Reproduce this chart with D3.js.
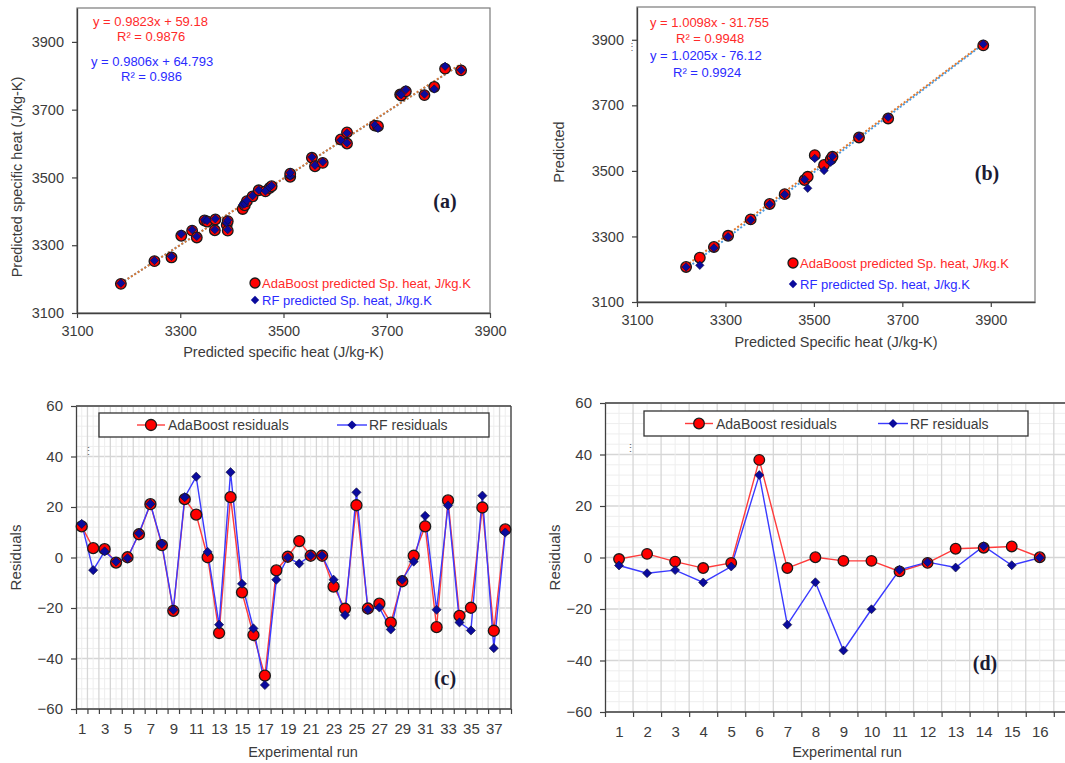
<!DOCTYPE html>
<html><head><meta charset="utf-8">
<script src="https://cdn.jsdelivr.net/npm/d3@7"></script>
<style>body{margin:0;background:#fff;} svg{display:block;}</style>
</head><body>
<svg id="chart" width="1065" height="763"></svg>
<script>
// ---------- DATA ----------
// Panel (a): training set scatter
const actualA = [3185,3250,3283,3302,3323,3332,3347,3352,3368,3367,3390,3392,3392,3421,3425,3429,3440,3452,3465,3473,3477,3513,3513,3555,3561,3576,3611,3623,3623,3677,3683,3726,3728,3737,3773,3792,3813,3844];
const adaA    = [3186,3253,3264,3328,3343,3323,3373,3370,3376,3344,3360,3371,3343,3407,3418,3430,3444,3462,3459,3469,3474,3502,3511,3558,3533,3543,3612,3633,3600,3653,3651,3745,3742,3754,3743,3767,3821,3816];
const rfA     = [3188,3255,3267,3333,3346,3326,3375,3373,3378,3346,3366,3374,3346,3420,3422,3432,3446,3463,3460,3471,3476,3504,3514,3560,3536,3546,3610,3631,3602,3655,3645,3747,3744,3759,3746,3761,3828,3817];
const slopesA = [0.9823, 0.9806];
const interceptsA = [59.18, 64.793];
const eqTextA = ["y = 0.9823x  + 59.18", "R² = 0.9876", "y = 0.9806x  + 64.793", "R² = 0.986"];

// Panel (b): testing set scatter
const actualB = [3211,3242,3274,3306,3357,3400,3434,3479,3486,3502,3523,3538,3542,3602,3668,3883];
const adaB    = [3207,3235,3268,3302,3352,3399,3429,3472,3482,3548,3518,3535,3543,3602,3660,3883];
const rfB     = [3207,3212,3265,3299,3350,3398,3428,3474,3447,3538,3501,3526,3545,3605,3664,3887];
const slopesB = [1.0098, 1.0205];
const interceptsB = [-31.755, -76.12];
const eqTextB = ["y = 1.0098x - 31.755", "R² = 0.9948", "y = 1.0205x - 76.12", "R² = 0.9924"];

const scatterTicks = [3100, 3300, 3500, 3700, 3900];
const scatterLegend = ["AdaBoost predicted Sp. heat, J/kg.K", "RF predicted Sp. heat, J/kg.K"];

// Panel (c): training residuals
const runsC = d3.range(1, 39);
const adaC = [12.3,3.7,3.3,-2,0.1,9.2,21.1,4.9,-21.1,23.1,17,0.1,-29.9,23.9,-13.8,-30.7,-46.8,-5.1,0.3,6.5,0.7,0.7,-11.5,-20.3,20.7,-20.2,-18.3,-25.8,-9.4,0.7,12.3,-27.6,22.6,-23.1,-19.9,19.8,-29,11.1];
const rfC  = [13.3,-5,2.4,-1.6,-0.3,9.6,21.2,5.4,-20.7,23.9,32,2.2,-26.6,33.8,-10.4,-28.1,-50.5,-8.8,0,-2.4,0.8,0.8,-8.8,-22.8,25.8,-20.7,-19.8,-28.5,-8.8,-1.6,16.5,-20.7,20.6,-25.7,-28.9,24.5,-35.9,9.9];
const xLabelsC = [1,3,5,7,9,11,13,15,17,19,21,23,25,27,29,31,33,35,37];

// Panel (d): testing residuals
const runsD = [1,2,3,4,5,6,7,8,9,10,11,12,13,14,15,16];
const adaD = [-0.6,1.4,-1.6,-4.1,-2.1,37.9,-4.1,0.1,-1.3,-1.3,-5.4,-2.1,3.4,3.8,4.3,0.1];
const rfD  = [-3.1,-6.1,-4.9,-9.7,-3.5,32,-26.1,-9.6,-36.1,-20.1,-4.8,-1.8,-3.9,4.4,-3,-0.1];

const residTicks = [-60,-40,-20,0,20,40,60];
const residLegend = ["AdaBoost residuals", "RF residuals"];

// ---------- STYLE ----------
const FONT = '"Liberation Sans", Arial, sans-serif';
const SERIF = '"Liberation Serif", "Times New Roman", serif';
const TXT = '#3b3b3b';
const RED = '#ff0000', BLUE = '#0a0a9c';
const svg = d3.select('#chart');

function diamond(h) { return `M0,${-h}L${h},0L0,${h}L${-h},0Z`; }

function styleAxis(a, fs) {
  a.select('.domain').attr('stroke', '#404040').attr('stroke-width', 1.3);
  a.selectAll('.tick line').attr('stroke', '#404040').attr('stroke-width', 1.2);
  a.selectAll('text').attr('fill', TXT).style('font-size', fs + 'px').style('font-family', FONT);
}

function addText(g, x, y, t, o) {
  const e = g.append('text').attr('x', x).attr('y', y).text(t)
    .style('font-family', o.family || FONT).style('font-size', (o.size || 13) + 'px')
    .attr('fill', o.fill || TXT).attr('text-anchor', o.anchor || 'start');
  if (o.weight) e.style('font-weight', o.weight);
  if (o.rotate) e.attr('transform', `rotate(-90,${x},${y})`);
  return e;
}

// ---------- SCATTER PANEL ----------
function scatterPanel(o) {
  const g = svg.append('g');
  const x = d3.scaleLinear().domain(o.xDom).range([o.l, o.r]);
  const y = d3.scaleLinear().domain(o.yDom).range([o.b, o.t]);
  g.append('rect').attr('x', o.l).attr('y', o.t).attr('width', o.r - o.l).attr('height', o.b - o.t)
    .attr('fill', 'none').attr('stroke', '#7a7a7a').attr('stroke-width', 1.2);
  const ax = g.append('g').attr('transform', `translate(0,${o.b})`)
    .call(d3.axisBottom(x).tickValues(scatterTicks).tickSize(5).tickSizeOuter(0).tickPadding(8).tickFormat(d3.format('d')));
  const ay = g.append('g').attr('transform', `translate(${o.l},0)`)
    .call(d3.axisLeft(y).tickValues(scatterTicks).tickSize(5).tickSizeOuter(0).tickPadding(8).tickFormat(d3.format('d')));
  styleAxis(ax, 14.5); styleAxis(ay, 14.5);

  addText(g, (o.l + o.r) / 2 + o.xtOff, o.xtY, o.xTitle, {size: 14.5, anchor: 'middle'});
  addText(g, o.ytX, o.ytY, o.yTitle, {size: 14.5, anchor: 'middle', rotate: true});

  // trendlines (RF blue first, AdaBoost orange on top)
  const x0 = d3.min(o.actual), x1 = d3.max(o.actual);
  const trendColors = ['#e07a30', '#4a9be0'];
  [1, 0].forEach(k => {
    g.append('line')
      .attr('x1', x(x0)).attr('y1', y(o.slopes[k] * x0 + o.inter[k]))
      .attr('x2', x(x1)).attr('y2', y(o.slopes[k] * x1 + o.inter[k]))
      .attr('stroke', trendColors[k]).attr('stroke-width', 2).attr('stroke-dasharray', '2,2');
  });

  g.selectAll('circle.ada').data(o.actual).enter().append('circle')
    .attr('cx', d => x(d)).attr('cy', (d, i) => y(o.ada[i])).attr('r', 5.3)
    .attr('fill', RED).attr('stroke', '#1a1a1a').attr('stroke-width', 1.3);
  g.selectAll('path.rf').data(o.actual).enter().append('path')
    .attr('d', diamond(4.2)).attr('transform', (d, i) => `translate(${x(d)},${y(o.rf[i])})`)
    .attr('fill', BLUE).attr('stroke', '#101030').attr('stroke-width', 0.6);

  // equations
  addText(g, o.eqX[0], o.eqY[0], o.eq[0], {fill: '#ff2a2a'});
  addText(g, o.eqX[1], o.eqY[1], o.eq[1], {fill: '#ff2a2a'});
  addText(g, o.eqX[2], o.eqY[2], o.eq[2], {fill: '#2b2bff'});
  addText(g, o.eqX[3], o.eqY[3], o.eq[3], {fill: '#2b2bff'});

  // legend
  g.append('circle').attr('cx', o.legX).attr('cy', o.legY[0]).attr('r', 5)
    .attr('fill', RED).attr('stroke', '#1a1a1a').attr('stroke-width', 1.3);
  g.append('path').attr('d', diamond(4.2)).attr('transform', `translate(${o.legX},${o.legY[1]})`)
    .attr('fill', BLUE);
  addText(g, o.legX + 7, o.legY[0] + 4.6, scatterLegend[0], {fill: '#ff2a2a'});
  addText(g, o.legX + 7, o.legY[1] + 4.6, scatterLegend[1], {fill: '#2b2bff'});

  addText(g, o.tagX, o.tagY, o.tag, {family: SERIF, size: 20, weight: 'bold', anchor: 'middle', fill: '#1b1b33'});
}

// ---------- RESIDUAL PANEL ----------
function residPanel(o) {
  const g = svg.append('g');
  const x = d3.scaleLinear().domain([0.5, o.runs.length + 0.5]).range([o.l, o.rData]);
  const y = d3.scaleLinear().domain([-60, 60]).range([o.b, o.t]);
  const grid = g.append('g');
  // horizontal minor / major
  d3.range(-60, 61, 4).forEach(v => {
    const major = v % 20 === 0;
    grid.append('line').attr('x1', o.l).attr('x2', o.rFrame).attr('y1', y(v)).attr('y2', y(v))
      .attr('stroke', major ? '#d6d6d6' : '#eeeeee').attr('stroke-width', major ? 1.3 : 1);
  });
  // vertical: centers minor, boundaries major
  const nCat = Math.ceil(x.invert(o.rFrame));
  for (let k = 1; k <= nCat; k++) {
    [[k, false], [k + 0.5, true]].forEach(([v, major]) => {
      const px = x(v);
      if (px > o.rFrame + 0.1) return;
      grid.append('line').attr('x1', px).attr('x2', px).attr('y1', o.t).attr('y2', o.b)
        .attr('stroke', major ? '#d6d6d6' : '#eeeeee').attr('stroke-width', major ? 1.3 : 1);
    });
  }
  // frame top/right
  g.append('line').attr('x1', o.l).attr('x2', o.rFrame).attr('y1', o.t).attr('y2', o.t).attr('stroke', '#404040').attr('stroke-width', 1.3);
  if (o.rightBorder) g.append('line').attr('x1', o.rFrame).attr('x2', o.rFrame).attr('y1', o.t).attr('y2', o.b).attr('stroke', '#404040').attr('stroke-width', 1.3);

  // axes
  const ay = g.append('g').attr('transform', `translate(${o.l},0)`)
    .call(d3.axisLeft(y).tickValues(residTicks).tickSize(5).tickSizeOuter(0).tickPadding(8));
  styleAxis(ay, 15);
  const boundaries = d3.range(0.5, nCat + 0.6, 1).filter(v => x(v) <= o.rFrame + 0.1);
  const axT = g.append('g').attr('transform', `translate(0,${o.b})`)
    .call(d3.axisBottom(x).tickValues(boundaries).tickSize(5).tickSizeOuter(0).tickFormat(''));
  styleAxis(axT, 15);
  axT.select('.domain').attr('d', `M${o.l},0H${o.rFrame}`);
  const axL = g.append('g').attr('transform', `translate(0,${o.b})`)
    .call(d3.axisBottom(x).tickValues(o.xLabels).tickSize(0).tickPadding(14).tickFormat(d3.format('d')));
  axL.select('.domain').remove();
  styleAxis(axL, 15);

  addText(g, o.xtX, o.xtY, 'Experimental run', {size: 14.5, anchor: 'middle'});
  addText(g, o.ytX, (o.t + o.b) / 2, 'Residuals', {size: 15, anchor: 'middle', rotate: true});

  // series
  const line = d3.line().x((d, i) => x(o.runs[i])).y(d => y(d));
  g.append('path').datum(o.ada).attr('d', line).attr('fill', 'none').attr('stroke', '#ff3b3b').attr('stroke-width', 1.4);
  g.append('path').datum(o.rf).attr('d', line).attr('fill', 'none').attr('stroke', '#3a3aff').attr('stroke-width', 1.4);
  g.selectAll('circle.ada').data(o.ada).enter().append('circle')
    .attr('cx', (d, i) => x(o.runs[i])).attr('cy', d => y(d)).attr('r', o.r)
    .attr('fill', RED).attr('stroke', '#1a1a1a').attr('stroke-width', 1.3);
  g.selectAll('path.rf').data(o.rf).enter().append('path')
    .attr('d', diamond(o.h)).attr('transform', (d, i) => `translate(${x(o.runs[i])},${y(d)})`)
    .attr('fill', BLUE).attr('stroke', '#101030').attr('stroke-width', 0.6);

  // legend
  const L = o.leg;
  g.append('rect').attr('x', L.x0).attr('y', L.y0).attr('width', L.x1 - L.x0).attr('height', L.y1 - L.y0)
    .attr('fill', '#fff').attr('stroke', '#333').attr('stroke-width', 1.3);
  const cy = (L.y0 + L.y1) / 2;
  g.append('line').attr('x1', L.a - 14).attr('x2', L.a + 14).attr('y1', cy).attr('y2', cy).attr('stroke', '#ff3b3b').attr('stroke-width', 1.4);
  g.append('circle').attr('cx', L.a).attr('cy', cy).attr('r', o.r).attr('fill', RED).attr('stroke', '#1a1a1a').attr('stroke-width', 1.3);
  g.append('line').attr('x1', L.b - 15).attr('x2', L.b + 15).attr('y1', cy).attr('y2', cy).attr('stroke', '#3a3aff').attr('stroke-width', 1.4);
  g.append('path').attr('d', diamond(o.h)).attr('transform', `translate(${L.b},${cy})`).attr('fill', BLUE);
  addText(g, L.a + 17, cy + 5, residLegend[0], {size: 14});
  addText(g, L.b + 17, cy + 5, residLegend[1], {size: 14});

  addText(g, o.tagX, o.tagY, o.tag, {family: SERIF, size: 20, weight: 'bold', anchor: 'middle', fill: '#1b1b33'});
  addText(g, o.dotX, o.dotY, '⋮', {size: 11, fill: '#666', anchor: 'middle'});
}

// ---------- DRAW ----------
scatterPanel({
  l: 77, r: 490, t: 8, b: 313, xDom: [3100, 3900], yDom: [3100, 4000],
  actual: actualA, ada: adaA, rf: rfA, slopes: slopesA, inter: interceptsA, eq: eqTextA,
  eqX: [93, 117, 91, 121], eqY: [25.5, 40.5, 65.5, 80.5],
  xTitle: 'Predicted specific heat (J/kg-K)', xtOff: 0, xtY: 357,
  yTitle: 'Predicted specific heat (J/kg-K)', ytX: 22, ytY: 177,
  legX: 255, legY: [283, 300], tag: '(a)', tagX: 445, tagY: 208
});
scatterPanel({
  l: 637, r: 1035, t: 7, b: 302, xDom: [3100, 4000], yDom: [3100, 4000],
  actual: actualB, ada: adaB, rf: rfB, slopes: slopesB, inter: interceptsB, eq: eqTextB,
  eqX: [650, 676, 650, 673], eqY: [27, 43, 60, 77],
  xTitle: 'Predicted Specific heat (J/kg-K)', xtOff: 0, xtY: 347,
  yTitle: 'Predicted', ytX: 564, ytY: 152,
  legX: 793, legY: [263, 284], tag: '(b)', tagX: 987, tagY: 180
});
svg.append('text').attr('x', 632).attr('y', 50).text('⋮').style('font-size', '10px').attr('fill', '#666').attr('text-anchor', 'middle');

residPanel({
  l: 76, rData: 511, rFrame: 511, t: 406, b: 709, rightBorder: true,
  runs: runsC, ada: adaC, rf: rfC, xLabels: xLabelsC, r: 5.5, h: 4.6,
  xtX: 303, xtY: 757, ytX: 21,
  leg: {x0: 99, x1: 489, y0: 413, y1: 437, a: 151, b: 352},
  tag: '(c)', tagX: 445, tagY: 685, dotX: 88, dotY: 455
});
residPanel({
  l: 605, rData: 1053.8, rFrame: 1070, t: 403, b: 712, rightBorder: false,
  runs: runsD, ada: adaD, rf: rfD, xLabels: runsD, r: 5.3, h: 4.5,
  xtX: 847, xtY: 757, ytX: 560,
  leg: {x0: 644, x1: 1028, y0: 411, y1: 436, a: 699, b: 893},
  tag: '(d)', tagX: 985, tagY: 670, dotX: 630, dotY: 452
});
</script>
</body></html>
